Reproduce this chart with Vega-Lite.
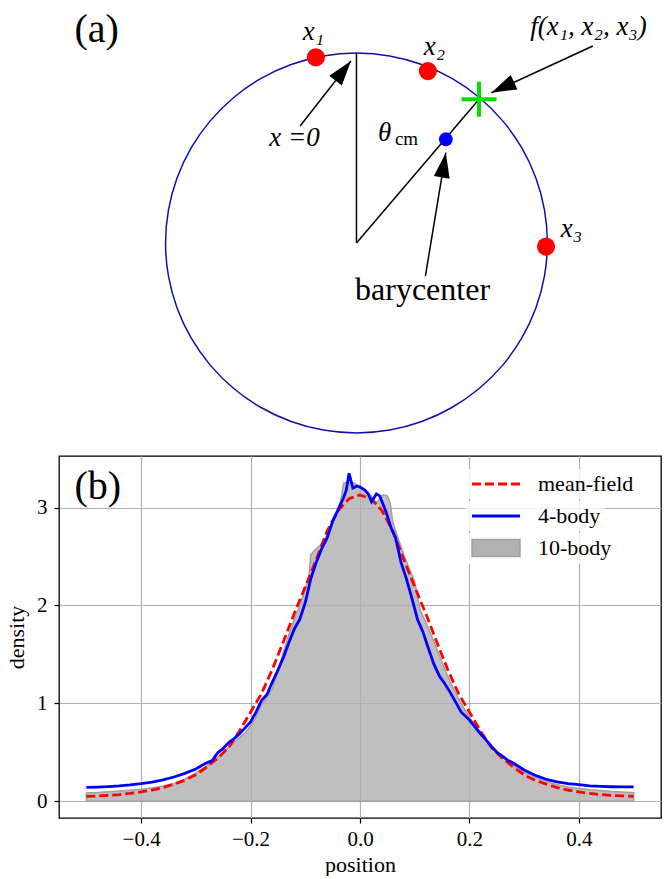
{
  "$schema": "https://vega.github.io/schema/vega-lite/v6.json",
  "padding": {"left": 4, "top": 0, "right": 0, "bottom": 0},
  "autosize": {"type": "pad"},
  "background": "white",
  "bounds": "flush",
  "spacing": 16,
  "resolve": {
    "scale": {"color": "independent", "fill": "independent", "strokeDash": "independent"},
    "legend": {"color": "independent", "fill": "independent", "strokeDash": "independent"}
  },
  "config": {
    "view": {"stroke": null},
    "font": "Liberation Serif",
    "text": {"font": "Liberation Serif", "color": "black"},
    "legend": {
      "title": null, "orient": "none", "padding": 4, "cornerRadius": 3,
      "fillColor": "rgba(255,255,255,0.8)",
      "labelFont": "Liberation Serif", "labelFontSize": 22, "labelColor": "black",
      "symbolSize": 144, "symbolOffset": 16, "labelOffset": 31
    }
  },
  "datasets": {
    "circle": [
      {"i":0,"u":1,"v":0},{"i":1,"u":0.9848,"v":0.1736},{"i":2,"u":0.9397,"v":0.342},{"i":3,"u":0.866,"v":0.5},
      {"i":4,"u":0.766,"v":0.6428},{"i":5,"u":0.6428,"v":0.766},{"i":6,"u":0.5,"v":0.866},{"i":7,"u":0.342,"v":0.9397},
      {"i":8,"u":0.1736,"v":0.9848},{"i":9,"u":0,"v":1},{"i":10,"u":-0.1736,"v":0.9848},{"i":11,"u":-0.342,"v":0.9397},
      {"i":12,"u":-0.5,"v":0.866},{"i":13,"u":-0.6428,"v":0.766},{"i":14,"u":-0.766,"v":0.6428},{"i":15,"u":-0.866,"v":0.5},
      {"i":16,"u":-0.9397,"v":0.342},{"i":17,"u":-0.9848,"v":0.1736},{"i":18,"u":-1,"v":0},{"i":19,"u":-0.9848,"v":-0.1736},
      {"i":20,"u":-0.9397,"v":-0.342},{"i":21,"u":-0.866,"v":-0.5},{"i":22,"u":-0.766,"v":-0.6428},{"i":23,"u":-0.6428,"v":-0.766},
      {"i":24,"u":-0.5,"v":-0.866},{"i":25,"u":-0.342,"v":-0.9397},{"i":26,"u":-0.1736,"v":-0.9848},{"i":27,"u":0,"v":-1},
      {"i":28,"u":0.1736,"v":-0.9848},{"i":29,"u":0.342,"v":-0.9397},{"i":30,"u":0.5,"v":-0.866},{"i":31,"u":0.6428,"v":-0.766},
      {"i":32,"u":0.766,"v":-0.6428},{"i":33,"u":0.866,"v":-0.5},{"i":34,"u":0.9397,"v":-0.342},{"i":35,"u":0.9848,"v":-0.1736}
    ],
    "segments": [
      {"u":0,"v":0,"u2":0,"v2":1},
      {"u":0,"v":0,"u2":0.642,"v2":0.756},
      {"u":-0.295,"v":0.616,"u2":-0.029,"v2":0.958},
      {"u":1.238,"v":1.037,"u2":0.707,"v2":0.791},
      {"u":0.361,"v":-0.174,"u2":0.468,"v2":0.475}
    ],
    "tips": [
      {"arrow":"x0","u":-0.029,"v":0.958},
      {"arrow":"f","u":0.707,"v":0.791},
      {"arrow":"bary","u":0.468,"v":0.475}
    ],
    "dots": [
      {"kind":"particle","u":-0.2126,"v":0.977},
      {"kind":"particle","u":0.374,"v":0.905},
      {"kind":"particle","u":0.993,"v":-0.019},
      {"kind":"barycenter","u":0.468,"v":0.546},
      {"kind":"f","u":0.642,"v":0.756}
    ],
    "labels": [
      {"style":"panel","text":"(a)","u":-1.361,"v":1.121},
      {"style":"math","text":"x₁","u":-0.225,"v":1.111},
      {"style":"math","text":"x₂","u":0.408,"v":1.032},
      {"style":"math","text":"x₃","u":1.126,"v":0.074},
      {"style":"math","text":"f(x₁, x₂, x₃)","u":1.215,"v":1.137},
      {"style":"math","text":"x =0","u":-0.325,"v":0.553},
      {"style":"math","text":"θ","u":0.147,"v":0.579},
      {"style":"sub","text":"cm","u":0.262,"v":0.547},
      {"style":"word","text":"barycenter","u":0.346,"v":-0.247}
    ],
    "curves": [
      {"series":"mean-field","position":-0.5,"density":0.05},
      {"series":"mean-field","position":-0.48,"density":0.054},
      {"series":"mean-field","position":-0.46,"density":0.06},
      {"series":"mean-field","position":-0.44,"density":0.068},
      {"series":"mean-field","position":-0.42,"density":0.08},
      {"series":"mean-field","position":-0.4,"density":0.095},
      {"series":"mean-field","position":-0.38,"density":0.115},
      {"series":"mean-field","position":-0.36,"density":0.14},
      {"series":"mean-field","position":-0.34,"density":0.175},
      {"series":"mean-field","position":-0.32,"density":0.215},
      {"series":"mean-field","position":-0.3,"density":0.27},
      {"series":"mean-field","position":-0.28,"density":0.35},
      {"series":"mean-field","position":-0.26,"density":0.44},
      {"series":"mean-field","position":-0.24,"density":0.55},
      {"series":"mean-field","position":-0.22,"density":0.72},
      {"series":"mean-field","position":-0.2,"density":0.91},
      {"series":"mean-field","position":-0.18,"density":1.1},
      {"series":"mean-field","position":-0.16,"density":1.35},
      {"series":"mean-field","position":-0.14,"density":1.63},
      {"series":"mean-field","position":-0.12,"density":1.92},
      {"series":"mean-field","position":-0.1,"density":2.19},
      {"series":"mean-field","position":-0.08,"density":2.47},
      {"series":"mean-field","position":-0.06,"density":2.76},
      {"series":"mean-field","position":-0.04,"density":2.97},
      {"series":"mean-field","position":-0.02,"density":3.09},
      {"series":"mean-field","position":0,"density":3.13},
      {"series":"mean-field","position":0.02,"density":3.09},
      {"series":"mean-field","position":0.04,"density":2.97},
      {"series":"mean-field","position":0.06,"density":2.76},
      {"series":"mean-field","position":0.08,"density":2.47},
      {"series":"mean-field","position":0.1,"density":2.19},
      {"series":"mean-field","position":0.12,"density":1.92},
      {"series":"mean-field","position":0.14,"density":1.63},
      {"series":"mean-field","position":0.16,"density":1.35},
      {"series":"mean-field","position":0.18,"density":1.1},
      {"series":"mean-field","position":0.2,"density":0.91},
      {"series":"mean-field","position":0.22,"density":0.72},
      {"series":"mean-field","position":0.24,"density":0.55},
      {"series":"mean-field","position":0.26,"density":0.44},
      {"series":"mean-field","position":0.28,"density":0.35},
      {"series":"mean-field","position":0.3,"density":0.27},
      {"series":"mean-field","position":0.32,"density":0.215},
      {"series":"mean-field","position":0.34,"density":0.175},
      {"series":"mean-field","position":0.36,"density":0.14},
      {"series":"mean-field","position":0.38,"density":0.115},
      {"series":"mean-field","position":0.4,"density":0.095},
      {"series":"mean-field","position":0.42,"density":0.08},
      {"series":"mean-field","position":0.44,"density":0.068},
      {"series":"mean-field","position":0.46,"density":0.06},
      {"series":"mean-field","position":0.48,"density":0.054},
      {"series":"mean-field","position":0.5,"density":0.05},

      {"series":"4-body","position":-0.5,"density":0.142},
      {"series":"4-body","position":-0.48,"density":0.145},
      {"series":"4-body","position":-0.46,"density":0.15},
      {"series":"4-body","position":-0.44,"density":0.157},
      {"series":"4-body","position":-0.42,"density":0.167},
      {"series":"4-body","position":-0.4,"density":0.18},
      {"series":"4-body","position":-0.38,"density":0.196},
      {"series":"4-body","position":-0.36,"density":0.218},
      {"series":"4-body","position":-0.34,"density":0.248},
      {"series":"4-body","position":-0.32,"density":0.285},
      {"series":"4-body","position":-0.3,"density":0.33},
      {"series":"4-body","position":-0.29,"density":0.362},
      {"series":"4-body","position":-0.28,"density":0.392},
      {"series":"4-body","position":-0.27,"density":0.415},
      {"series":"4-body","position":-0.26,"density":0.495},
      {"series":"4-body","position":-0.25,"density":0.54},
      {"series":"4-body","position":-0.24,"density":0.6},
      {"series":"4-body","position":-0.23,"density":0.64},
      {"series":"4-body","position":-0.22,"density":0.69},
      {"series":"4-body","position":-0.21,"density":0.75},
      {"series":"4-body","position":-0.2,"density":0.81},
      {"series":"4-body","position":-0.19,"density":0.91},
      {"series":"4-body","position":-0.18,"density":1.03},
      {"series":"4-body","position":-0.17,"density":1.09},
      {"series":"4-body","position":-0.16,"density":1.22},
      {"series":"4-body","position":-0.15,"density":1.34},
      {"series":"4-body","position":-0.14,"density":1.47},
      {"series":"4-body","position":-0.13,"density":1.62},
      {"series":"4-body","position":-0.12,"density":1.76},
      {"series":"4-body","position":-0.11,"density":1.86},
      {"series":"4-body","position":-0.1,"density":2.03},
      {"series":"4-body","position":-0.09,"density":2.27},
      {"series":"4-body","position":-0.08,"density":2.44},
      {"series":"4-body","position":-0.07,"density":2.58},
      {"series":"4-body","position":-0.06,"density":2.69},
      {"series":"4-body","position":-0.05,"density":2.86},
      {"series":"4-body","position":-0.04,"density":2.98},
      {"series":"4-body","position":-0.03,"density":3.1},
      {"series":"4-body","position":-0.025,"density":3.18},
      {"series":"4-body","position":-0.02,"density":3.35},
      {"series":"4-body","position":-0.013,"density":3.2},
      {"series":"4-body","position":-0.005,"density":3.22},
      {"series":"4-body","position":0,"density":3.21},
      {"series":"4-body","position":0.009,"density":3.18},
      {"series":"4-body","position":0.015,"density":3.14},
      {"series":"4-body","position":0.021,"density":3.06},
      {"series":"4-body","position":0.03,"density":3.14},
      {"series":"4-body","position":0.036,"density":3.12},
      {"series":"4-body","position":0.048,"density":2.95},
      {"series":"4-body","position":0.057,"density":2.79},
      {"series":"4-body","position":0.065,"density":2.69},
      {"series":"4-body","position":0.075,"density":2.44},
      {"series":"4-body","position":0.085,"density":2.27},
      {"series":"4-body","position":0.095,"density":2.07},
      {"series":"4-body","position":0.105,"density":1.86},
      {"series":"4-body","position":0.115,"density":1.73},
      {"series":"4-body","position":0.125,"density":1.56},
      {"series":"4-body","position":0.135,"density":1.4},
      {"series":"4-body","position":0.145,"density":1.28},
      {"series":"4-body","position":0.155,"density":1.2},
      {"series":"4-body","position":0.165,"density":1.11},
      {"series":"4-body","position":0.175,"density":1.01},
      {"series":"4-body","position":0.185,"density":0.91},
      {"series":"4-body","position":0.2,"density":0.83},
      {"series":"4-body","position":0.21,"density":0.76},
      {"series":"4-body","position":0.22,"density":0.69},
      {"series":"4-body","position":0.23,"density":0.63},
      {"series":"4-body","position":0.24,"density":0.56},
      {"series":"4-body","position":0.25,"density":0.5},
      {"series":"4-body","position":0.26,"density":0.46},
      {"series":"4-body","position":0.27,"density":0.42},
      {"series":"4-body","position":0.28,"density":0.39},
      {"series":"4-body","position":0.29,"density":0.355},
      {"series":"4-body","position":0.3,"density":0.32},
      {"series":"4-body","position":0.32,"density":0.265},
      {"series":"4-body","position":0.34,"density":0.225},
      {"series":"4-body","position":0.36,"density":0.197},
      {"series":"4-body","position":0.38,"density":0.18},
      {"series":"4-body","position":0.4,"density":0.17},
      {"series":"4-body","position":0.42,"density":0.158},
      {"series":"4-body","position":0.44,"density":0.152},
      {"series":"4-body","position":0.46,"density":0.148},
      {"series":"4-body","position":0.48,"density":0.146},
      {"series":"4-body","position":0.5,"density":0.146},

      {"series":"10-body","position":-0.5,"density":0.085},
      {"series":"10-body","position":-0.48,"density":0.09},
      {"series":"10-body","position":-0.46,"density":0.097},
      {"series":"10-body","position":-0.44,"density":0.105},
      {"series":"10-body","position":-0.42,"density":0.113},
      {"series":"10-body","position":-0.4,"density":0.122},
      {"series":"10-body","position":-0.38,"density":0.135},
      {"series":"10-body","position":-0.36,"density":0.155},
      {"series":"10-body","position":-0.34,"density":0.18},
      {"series":"10-body","position":-0.32,"density":0.225},
      {"series":"10-body","position":-0.3,"density":0.29},
      {"series":"10-body","position":-0.28,"density":0.36},
      {"series":"10-body","position":-0.27,"density":0.4},
      {"series":"10-body","position":-0.26,"density":0.45},
      {"series":"10-body","position":-0.24,"density":0.55},
      {"series":"10-body","position":-0.22,"density":0.65},
      {"series":"10-body","position":-0.21,"density":0.7},
      {"series":"10-body","position":-0.2,"density":0.77},
      {"series":"10-body","position":-0.19,"density":0.86},
      {"series":"10-body","position":-0.18,"density":0.99},
      {"series":"10-body","position":-0.17,"density":1.06},
      {"series":"10-body","position":-0.16,"density":1.15},
      {"series":"10-body","position":-0.15,"density":1.33},
      {"series":"10-body","position":-0.14,"density":1.52},
      {"series":"10-body","position":-0.13,"density":1.7},
      {"series":"10-body","position":-0.12,"density":1.86},
      {"series":"10-body","position":-0.11,"density":2.0},
      {"series":"10-body","position":-0.1,"density":2.17},
      {"series":"10-body","position":-0.093,"density":2.3},
      {"series":"10-body","position":-0.09,"density":2.52},
      {"series":"10-body","position":-0.08,"density":2.58},
      {"series":"10-body","position":-0.07,"density":2.63},
      {"series":"10-body","position":-0.06,"density":2.72},
      {"series":"10-body","position":-0.05,"density":2.86},
      {"series":"10-body","position":-0.04,"density":2.98},
      {"series":"10-body","position":-0.035,"density":3.08},
      {"series":"10-body","position":-0.03,"density":3.25},
      {"series":"10-body","position":-0.02,"density":3.26},
      {"series":"10-body","position":-0.01,"density":3.25},
      {"series":"10-body","position":0,"density":3.2},
      {"series":"10-body","position":0.01,"density":3.17},
      {"series":"10-body","position":0.02,"density":3.12},
      {"series":"10-body","position":0.03,"density":3.05},
      {"series":"10-body","position":0.042,"density":3.13},
      {"series":"10-body","position":0.05,"density":3.12},
      {"series":"10-body","position":0.055,"density":3.05},
      {"series":"10-body","position":0.06,"density":2.85},
      {"series":"10-body","position":0.07,"density":2.68},
      {"series":"10-body","position":0.08,"density":2.52},
      {"series":"10-body","position":0.09,"density":2.38},
      {"series":"10-body","position":0.1,"density":2.24},
      {"series":"10-body","position":0.11,"density":1.95},
      {"series":"10-body","position":0.12,"density":1.83},
      {"series":"10-body","position":0.13,"density":1.7},
      {"series":"10-body","position":0.14,"density":1.56},
      {"series":"10-body","position":0.15,"density":1.42},
      {"series":"10-body","position":0.16,"density":1.28},
      {"series":"10-body","position":0.17,"density":1.16},
      {"series":"10-body","position":0.18,"density":1.05},
      {"series":"10-body","position":0.19,"density":0.95},
      {"series":"10-body","position":0.2,"density":0.86},
      {"series":"10-body","position":0.22,"density":0.7},
      {"series":"10-body","position":0.24,"density":0.57},
      {"series":"10-body","position":0.26,"density":0.46},
      {"series":"10-body","position":0.28,"density":0.37},
      {"series":"10-body","position":0.3,"density":0.3},
      {"series":"10-body","position":0.32,"density":0.25},
      {"series":"10-body","position":0.34,"density":0.205},
      {"series":"10-body","position":0.36,"density":0.17},
      {"series":"10-body","position":0.38,"density":0.145},
      {"series":"10-body","position":0.4,"density":0.13},
      {"series":"10-body","position":0.42,"density":0.118},
      {"series":"10-body","position":0.44,"density":0.11},
      {"series":"10-body","position":0.46,"density":0.1},
      {"series":"10-body","position":0.48,"density":0.094},
      {"series":"10-body","position":0.5,"density":0.088}
    ],
    "panelb": [
      {"text":"(b)","position":-0.479,"density":3.21}
    ]
  },
  "vconcat": [
    {
      "width": 602,
      "height": 440,
      "encoding": {
        "x": {"field": "u", "type": "quantitative", "scale": {"domain": [-1.558, 1.595], "nice": false, "zero": false}, "axis": null},
        "y": {"field": "v", "type": "quantitative", "scale": {"domain": [-1.037, 1.279], "nice": false, "zero": false}, "axis": null}
      },
      "layer": [
        {
          "data": {"name": "circle"},
          "mark": {"type": "line", "interpolate": "cardinal-closed", "stroke": "#1010a8", "strokeWidth": 1.5},
          "encoding": {"order": {"field": "i", "type": "quantitative"}}
        },
        {
          "data": {"name": "segments"},
          "mark": {"type": "rule", "color": "black", "strokeWidth": 1.5},
          "encoding": {"x2": {"field": "u2"}, "y2": {"field": "v2"}}
        },
        {
          "data": {"name": "tips"},
          "transform": [{"filter": "datum.arrow === 'x0'"}],
          "mark": {"type": "point", "shape": "M0,0L0.64,2L-0.64,2Z", "filled": true, "color": "black", "opacity": 1, "size": 625, "angle": 38}
        },
        {
          "data": {"name": "tips"},
          "transform": [{"filter": "datum.arrow === 'f'"}],
          "mark": {"type": "point", "shape": "M0,0L0.64,2L-0.64,2Z", "filled": true, "color": "black", "opacity": 1, "size": 625, "angle": 245}
        },
        {
          "data": {"name": "tips"},
          "transform": [{"filter": "datum.arrow === 'bary'"}],
          "mark": {"type": "point", "shape": "M0,0L0.64,2L-0.64,2Z", "filled": true, "color": "black", "opacity": 1, "size": 625, "angle": 9.4}
        },
        {
          "data": {"name": "dots"},
          "transform": [{"filter": "datum.kind === 'particle'"}],
          "mark": {"type": "point", "shape": "circle", "filled": true, "color": "#ff0000", "opacity": 1, "size": 330}
        },
        {
          "data": {"name": "dots"},
          "transform": [{"filter": "datum.kind === 'barycenter'"}],
          "mark": {"type": "point", "shape": "circle", "filled": true, "color": "#0000ff", "opacity": 1, "size": 190}
        },
        {
          "data": {"name": "dots"},
          "transform": [{"filter": "datum.kind === 'f'"}],
          "mark": {"type": "point", "shape": "M-1,0H1M0,-1V1", "filled": false, "stroke": "#00e000", "strokeWidth": 4, "opacity": 1, "size": 1225}
        },
        {
          "data": {"name": "labels"},
          "transform": [{"filter": "datum.style === 'panel'"}],
          "mark": {"type": "text", "font": "Liberation Serif", "fontSize": 40, "align": "center", "baseline": "middle", "color": "black"},
          "encoding": {"text": {"field": "text"}}
        },
        {
          "data": {"name": "labels"},
          "transform": [{"filter": "datum.style === 'math'"}],
          "mark": {"type": "text", "font": "Liberation Serif", "fontSize": 27, "fontStyle": "italic", "align": "center", "baseline": "middle", "color": "black"},
          "encoding": {"text": {"field": "text"}}
        },
        {
          "data": {"name": "labels"},
          "transform": [{"filter": "datum.style === 'sub'"}],
          "mark": {"type": "text", "font": "Liberation Serif", "fontSize": 19, "align": "center", "baseline": "middle", "color": "black"},
          "encoding": {"text": {"field": "text"}}
        },
        {
          "data": {"name": "labels"},
          "transform": [{"filter": "datum.style === 'word'"}],
          "mark": {"type": "text", "font": "Liberation Serif", "fontSize": 32, "align": "center", "baseline": "middle", "color": "black"},
          "encoding": {"text": {"field": "text"}}
        }
      ]
    },
    {
      "width": 602,
      "height": 362,
      "view": {"stroke": "black", "strokeWidth": 1.3},
      "encoding": {
        "x": {
          "field": "position", "type": "quantitative",
          "scale": {"domain": [-0.55, 0.55], "nice": false, "zero": false},
          "title": "position",
          "axis": {"values": [-0.4, -0.2, 0, 0.2, 0.4], "format": ".1f", "grid": true, "gridColor": "#b0b0b0", "gridWidth": 1.2, "domain": false, "ticks": true, "tickColor": "black", "tickSize": 5, "tickWidth": 1.2, "labelFont": "Liberation Serif", "labelFontSize": 21, "labelColor": "black", "labelPadding": 5, "titleFont": "Liberation Serif", "titleFontSize": 22, "titleFontWeight": "normal", "titleColor": "black", "titlePadding": 5}
        },
        "y": {
          "field": "density", "type": "quantitative",
          "scale": {"domain": [-0.171, 3.527], "nice": false, "zero": false},
          "title": "density",
          "axis": {"values": [0, 1, 2, 3], "format": "d", "grid": true, "gridColor": "#b0b0b0", "gridWidth": 1.2, "domain": false, "ticks": true, "tickColor": "black", "tickSize": 5, "tickWidth": 1.2, "labelFont": "Liberation Serif", "labelFontSize": 21, "labelColor": "black", "labelPadding": 7, "titleFont": "Liberation Serif", "titleFontSize": 22, "titleFontWeight": "normal", "titleColor": "black", "titlePadding": 8}
        }
      },
      "layer": [
        {
          "data": {"name": "curves"},
          "transform": [{"filter": "datum.series === '10-body'"}],
          "mark": {"type": "area", "fillOpacity": 0.81, "stroke": "#a0a0a0", "strokeWidth": 1.5},
          "encoding": {
            "y2": {"datum": 0},
            "fill": {
              "field": "series", "type": "nominal",
              "scale": {"domain": ["10-body"], "range": ["#b0b0b0"]},
              "legend": {"legendX": 406, "legendY": 77, "symbolType": "M-4,-1.4H4V1.4H-4Z", "symbolStrokeColor": "#a0a0a0", "symbolStrokeWidth": 1.5, "symbolOpacity": 1}
            }
          }
        },
        {
          "data": {"name": "curves"},
          "transform": [{"filter": "datum.series === 'mean-field'"}],
          "mark": {"type": "line", "strokeWidth": 2.8, "color": "#ff0000"},
          "encoding": {
            "strokeDash": {
              "field": "series", "type": "nominal",
              "scale": {"domain": ["mean-field"], "range": [[9, 4]]},
              "legend": {"legendX": 406, "legendY": 13, "symbolType": "M-4,0H4", "symbolStrokeColor": "#ff0000", "symbolStrokeWidth": 2.8}
            }
          }
        },
        {
          "data": {"name": "curves"},
          "transform": [{"filter": "datum.series === '4-body'"}],
          "mark": {"type": "line", "strokeWidth": 2.8},
          "encoding": {
            "color": {
              "field": "series", "type": "nominal",
              "scale": {"domain": ["4-body"], "range": ["#0000ff"]},
              "legend": {"legendX": 406, "legendY": 45, "symbolType": "M-4,0H4", "symbolStrokeWidth": 2.8}
            }
          }
        },
        {
          "data": {"name": "panelb"},
          "mark": {"type": "text", "font": "Liberation Serif", "fontSize": 40, "align": "center", "baseline": "middle", "color": "black"},
          "encoding": {"text": {"field": "text"}}
        }
      ]
    }
  ]
}
